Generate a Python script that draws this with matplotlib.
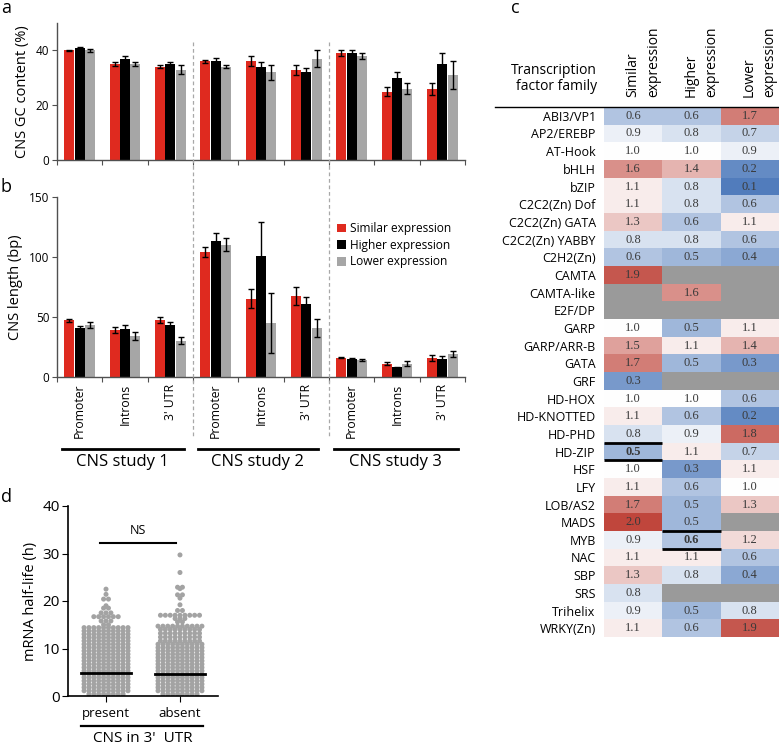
import numpy as np
import matplotlib
matplotlib.use('Agg')
import matplotlib.pyplot as plt
import matplotlib.transforms as mtransforms
from matplotlib.patches import Patch
from matplotlib.lines import Line2D
from matplotlib.colors import LinearSegmentedColormap

plt.rcParams['font.family'] = ['Open Sans', 'DejaVu Sans']

# ---- panel a / b data ----
regions = ['Promoter', 'Introns', "3' UTR"]
studies = ['CNS study 1', 'CNS study 2', 'CNS study 3']
series = ['Similar expression', 'Higher expression', 'Lower expression']

gc_similar = [40, 35, 34, 36, 36, 33, 39, 25, 26]
gc_similar_err = [0.3, 0.6, 0.6, 0.6, 1.8, 1.8, 1.0, 1.5, 2.2]
gc_higher = [41, 37, 35, 36, 34, 32, 39, 30, 35]
gc_higher_err = [0.4, 0.8, 0.8, 1.3, 1.8, 1.6, 1.0, 2.0, 4.0]
gc_lower = [40, 35, 33, 34, 32, 37, 38, 26, 31]
gc_lower_err = [0.5, 0.7, 1.5, 0.6, 2.7, 3.0, 1.0, 2.0, 5.0]

len_similar = [47, 39, 47, 104, 65, 67, 16, 11, 16]
len_similar_err = [1.2, 2.5, 2.5, 4, 8, 7.5, 0.8, 1.0, 2.5]
len_higher = [41, 40, 43, 113, 101, 61, 15, 8, 15]
len_higher_err = [1.5, 3.5, 3, 7, 28, 5.5, 0.8, 0.5, 2]
len_lower = [43, 34, 30, 110, 45, 41, 14, 11, 19]
len_lower_err = [2.5, 3, 3, 5.5, 25, 7.5, 0.6, 1.8, 2.5]

# ---- panel c data ----
tf_families = ['ABI3/VP1', 'AP2/EREBP', 'AT-Hook', 'bHLH', 'bZIP', 'C2C2(Zn) Dof',
               'C2C2(Zn) GATA', 'C2C2(Zn) YABBY', 'C2H2(Zn)', 'CAMTA', 'CAMTA-like',
               'E2F/DP', 'GARP', 'GARP/ARR-B', 'GATA', 'GRF', 'HD-HOX', 'HD-KNOTTED',
               'HD-PHD', 'HD-ZIP', 'HSF', 'LFY', 'LOB/AS2', 'MADS', 'MYB', 'NAC', 'SBP',
               'SRS', 'Trihelix', 'WRKY(Zn)']
n = np.nan
similar_ratio = [0.6, 0.9, 1.0, 1.6, 1.1, 1.1, 1.3, 0.8, 0.6, 1.9, n, n, 1.0, 1.5, 1.7,
                 0.3, 1.0, 1.1, 0.8, 0.5, 1.0, 1.1, 1.7, 2.0, 0.9, 1.1, 1.3, 0.8, 0.9, 1.1]
higher_ratio = [0.6, 0.8, 1.0, 1.4, 0.8, 0.8, 0.6, 0.8, 0.5, n, 1.6, n, 0.5, 1.1, 0.5,
                n, 1.0, 0.6, 0.9, 1.1, 0.3, 0.6, 0.5, 0.5, 0.6, 1.1, 0.8, n, 0.5, 0.6]
lower_ratio = [1.7, 0.7, 0.9, 0.2, 0.1, 0.6, 1.1, 0.6, 0.4, n, n, n, 1.1, 1.4, 0.3,
               n, 0.6, 0.2, 1.8, 0.7, 1.1, 1.0, 1.3, n, 1.2, 0.6, 0.4, n, 0.8, 1.9]
col_labels = ['Similar\nexpression', 'Higher\nexpression', 'Lower\nexpression']
bold_cells = [('HD-ZIP', 0), ('MYB', 1)]

groups = ['present', 'absent']
present_levels = [22.5, 21.4, 20.4, 19.0, 18.5, 17.5, 16.7, 15.8, 15.0,
                  14.4, 13.7, 13.0, 12.3, 11.6, 10.9, 10.2, 9.5, 8.8, 8.1, 7.4,
                  6.7, 6.0, 5.3, 4.6, 3.9, 3.2, 2.5, 1.8, 1.1, 0.4]
present_counts = [1, 1, 2, 1, 2, 3, 6, 3, 2,
                  10, 10, 10, 10, 10, 10, 10, 10, 10, 10, 10,
                  10, 10, 10, 10, 10, 10, 10, 10, 10, 8]
absent_levels = [29.7, 26.0, 22.9, 22.6, 21.3, 20.6, 19.2, 18.0, 17.0, 16.3, 15.6,
                 14.7, 14.0, 13.2, 12.4, 11.6, 10.9, 10.2, 9.5, 8.8, 8.1, 7.4,
                 6.7, 6.0, 5.3, 4.6, 3.9, 3.2, 2.5, 1.8, 1.1, 0.4]
absent_counts = [1, 1, 2, 1, 2, 1, 1, 2, 9, 3, 2,
                 10, 9, 9, 9, 9, 10, 10, 10, 10, 10, 10,
                 10, 10, 10, 10, 10, 10, 10, 10, 10, 8]
medians = [4.9, 4.6]
ns_level = 32.2

colors = ['#df2a1f', '#000000', '#a6a6a6']
W, H = 779, 744

fig = plt.figure(figsize=(7.79, 7.44), dpi=100)


def add_axes(x0, y0, x1, y1):
    return fig.add_axes([x0 / W, 1 - y1 / H, (x1 - x0) / W, (y1 - y0) / H])


def fy(py):
    return 1 - py / H


ax_a = add_axes(57, 23, 465, 160)
ax_b = add_axes(57, 196.7, 465, 376.7)
ax_c = add_axes(604, 107, 779, 637)
ax_d = add_axes(68, 506, 218, 696)

xc = np.arange(9) + 0.5
offsets = [-0.225, 0, 0.225]


def bar_panel(ax, vals, errs, ymax, yticks):
    for k in range(3):
        ax.bar(xc + offsets[k], vals[k], width=0.22, color=colors[k], zorder=2,
               yerr=errs[k], error_kw=dict(ecolor='black', elinewidth=1, capsize=2.3, capthick=1))
    ax.set_xlim(0, 9)
    ax.set_ylim(0, ymax)
    ax.set_yticks(yticks)
    ax.set_xticks(range(10))
    ax.set_xticklabels([])
    for s in ['top', 'right']:
        ax.spines[s].set_visible(False)
    for s in ['left', 'bottom']:
        ax.spines[s].set_color('#505050')
        ax.spines[s].set_linewidth(1)
    ax.tick_params(axis='both', which='major', length=3.5, color='#505050', labelsize=8.5, pad=2)


bar_panel(ax_a, [gc_similar, gc_higher, gc_lower],
          [gc_similar_err, gc_higher_err, gc_lower_err], 50, [0, 20, 40])
ax_a.set_ylabel('CNS GC content (%)', fontsize=10.5, labelpad=4)

bar_panel(ax_b, [len_similar, len_higher, len_lower],
          [len_similar_err, len_higher_err, len_lower_err], 150, [0, 50, 100, 150])
ax_b.set_ylabel('CNS length (bp)', fontsize=10.5, labelpad=4)
ax_b.set_xticks(xc, minor=True)
ax_b.set_xticklabels(regions * 3, minor=True, rotation=90, fontsize=8.8)
ax_b.tick_params(axis='x', which='minor', length=0, pad=5)

handles = [Patch(facecolor=c, edgecolor='none') for c in colors]
ax_b.legend(handles, series, loc='upper left', bbox_to_anchor=(0.675, 0.885), frameon=False,
            fontsize=8.6, handlelength=0.75, handleheight=0.75, handletextpad=0.3,
            labelspacing=0.3, borderaxespad=0)

# dashed separators and study brackets
trans = mtransforms.blended_transform_factory(ax_b.transData, fig.transFigure)
for xb in [3, 6]:
    fig.add_artist(Line2D([xb, xb], [fy(42), fy(438)], transform=trans,
                          ls=(0, (3, 2.2)), color='#a8a8a8', lw=0.9))
study_spans = [(0.1, 2.8), (3.1, 5.75), (6.1, 8.85)]
for (s0, s1), name in zip(study_spans, studies):
    fig.add_artist(Line2D([s0, s1], [fy(449), fy(449)], transform=trans, color='black', lw=2))
    fig.text((s0 + s1) / 2, fy(462), name, transform=trans, ha='center', va='center', fontsize=12)

# ---- panel c ----
data = np.array([similar_ratio, higher_ratio, lower_ratio], dtype=float).T
cmap = LinearSegmentedColormap.from_list('bwr_c', ['#3f6fb6', '#ffffff', '#c0463c'])
cmap.set_bad('#9a9a9a')
ax_c.imshow(np.ma.masked_invalid(data), cmap=cmap, vmin=0, vmax=2, aspect='auto',
            interpolation='nearest')
bold_set = {(tf_families.index(f), j) for f, j in bold_cells}
for i in range(data.shape[0]):
    for j in range(data.shape[1]):
        v = data[i, j]
        if np.isnan(v):
            continue
        ax_c.text(j, i, '%.1f' % v, ha='center', va='center', fontsize=9,
                  family='Liberation Serif', color='#3a3a3a',
                  fontweight='bold' if (i, j) in bold_set else 'normal')
for i, j in bold_set:
    for yy in [i - 0.5, i + 0.5]:
        ax_c.plot([j - 0.5, j + 0.5], [yy, yy], color='black', lw=2, clip_on=False,
                  solid_capstyle='butt')
ax_c.set_yticks(range(len(tf_families)))
ax_c.set_yticklabels(tf_families, fontsize=9)
ax_c.set_xticks([])
ax_c.tick_params(axis='y', length=0, pad=6)
for s in ax_c.spines.values():
    s.set_visible(False)
for j, lab in enumerate(col_labels):
    ax_c.text(j + 0.17, -1.07, lab, rotation=90, ha='center', va='bottom',
              multialignment='left', fontsize=10, linespacing=1.5, clip_on=False)
ax_c.plot([-0.623, 1.0], [1.0, 1.0], transform=ax_c.transAxes, color='black', lw=1,
          clip_on=False)
ax_c.text(-0.04, 1.025, 'Transcription\nfactor family', transform=ax_c.transAxes,
          ha='right', va='bottom', multialignment='right', fontsize=10, linespacing=1.05)

# ---- panel d ----
dot_step = 0.066
max_half = 0.33
for g, (levels, counts) in enumerate([(present_levels, present_counts),
                                       (absent_levels, absent_counts)]):
    xs, ys = [], []
    for lev, cnt in zip(levels, counts):
        step = dot_step if cnt < 2 else min(dot_step, 2 * max_half / (cnt - 1))
        for k in range(cnt):
            xs.append(g + (k - (cnt - 1) / 2) * step)
            ys.append(lev)
    ax_d.scatter(xs, ys, s=13, color='#a3a3a3', edgecolors='none', zorder=2)
    ax_d.plot([g - 0.34, g + 0.34], [medians[g], medians[g]], color='black', lw=2, zorder=3)
ax_d.plot([-0.08, 0.95], [ns_level, ns_level], color='black', lw=1.5)
ax_d.text(0.43, ns_level + 1.2, 'NS', ha='center', va='bottom', fontsize=9)
ax_d.set_xlim(-0.514, 1.514)
ax_d.set_ylim(0, 40)
ax_d.set_yticks([0, 10, 20, 30, 40])
ax_d.set_xticks([0, 1])
ax_d.set_xticklabels(groups, fontsize=9.5)
for s in ['top', 'right']:
    ax_d.spines[s].set_visible(False)
for s in ['left', 'bottom']:
    ax_d.spines[s].set_linewidth(1.2)
ax_d.tick_params(axis='y', labelsize=11, length=4, pad=2)
ax_d.tick_params(axis='x', length=4, pad=4)
ax_d.set_ylabel('mRNA half-life (h)', fontsize=10.5, labelpad=3)
trans_d = mtransforms.blended_transform_factory(ax_d.transData, fig.transFigure)
fig.add_artist(Line2D([-0.34, 1.31], [fy(726), fy(726)], transform=trans_d, color='black', lw=1.6))
fig.text(0.5, fy(738), "CNS in 3'  UTR", transform=trans_d, ha='center', va='center', fontsize=11)

# panel letters
for lab, px, py in [('a', 1, 8), ('b', 1, 187), ('c', 511, 8), ('d', 1, 497)]:
    fig.text(px / W, fy(py), lab, ha='left', va='center', fontsize=13)

fig.savefig('out.png', dpi=100)
